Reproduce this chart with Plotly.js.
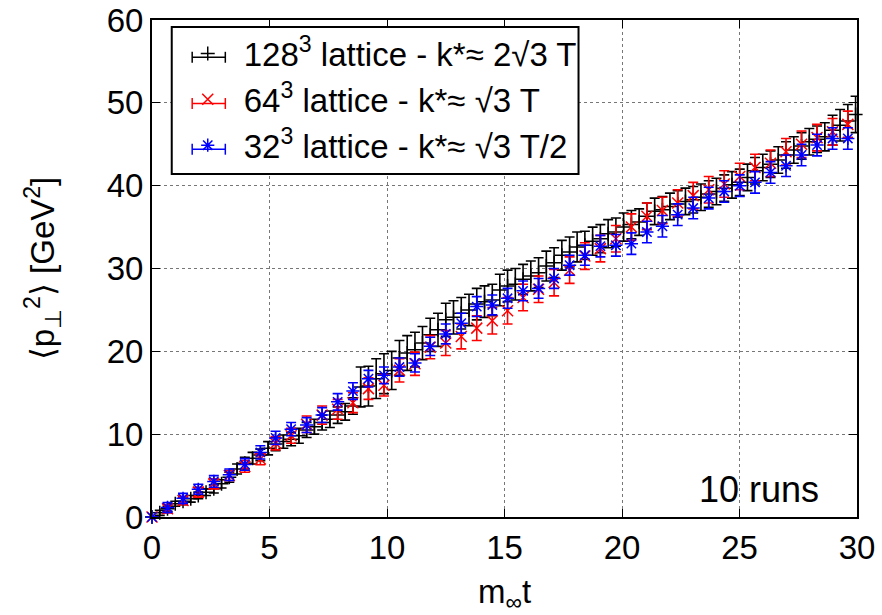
<!DOCTYPE html>
<html>
<head>
<meta charset="utf-8">
<script src="https://cdn.plot.ly/plotly-3.0.1.min.js"></script>
<style>html,body{margin:0;padding:0;background:#fff}#chart{width:882px;height:615px}</style>
</head>
<body>
<div id="chart"></div>
<script>
// 128^3 lattice (black)
var x128 = [0.00,0.33,0.66,0.99,1.32,1.65,1.97,2.30,2.63,2.96,3.29,3.62,3.95,4.28,4.61,4.94,5.26,5.59,5.92,6.25,
  6.58,6.91,7.24,7.57,7.90,8.22,8.55,8.88,9.21,9.54,9.87,10.20,10.53,10.86,11.19,11.51,11.84,12.17,12.50,12.83,
  13.16,13.49,13.82,14.15,14.48,14.80,15.13,15.46,15.79,16.12,16.45,16.78,17.11,17.44,17.77,18.09,18.42,18.75,19.08,19.41,
  19.74,20.07,20.40,20.73,21.06,21.39,21.72,22.04,22.37,22.70,23.03,23.36,23.69,24.02,24.35,24.68,25.01,25.34,25.66,25.99,
  26.32,26.65,26.98,27.31,27.64,27.97,28.30,28.63,28.96,29.28,29.61,29.94];
var y128 = [0.0,0.5,1.0,1.6,1.9,2.2,2.6,3.0,3.4,4.0,4.8,5.8,6.5,7.1,7.5,8.3,8.8,9.1,9.4,9.8,
  10.5,10.9,11.4,11.8,12.3,12.7,13.4,15.7,15.8,16.7,17.3,17.7,19.2,19.8,20.2,21.0,22.0,22.6,23.8,24.1,
  24.6,25.0,25.7,26.0,26.2,27.4,27.9,28.1,28.7,29.1,29.5,30.3,30.7,31.6,32.0,32.6,32.8,33.3,33.6,34.2,
  34.4,35.0,35.3,35.6,36.3,36.9,37.1,37.5,37.8,38.1,38.3,38.6,39.0,39.3,39.7,40.1,40.4,41.0,41.8,42.2,
  42.6,43.1,43.7,44.3,44.8,45.3,45.6,45.9,46.7,47.3,47.8,48.6];
var e128 = [0.0,0.3,0.3,0.3,0.4,0.4,0.4,0.4,0.5,0.5,0.6,0.6,0.7,0.7,0.7,0.8,0.8,0.8,0.8,0.9,
  0.9,0.9,0.9,1.0,1.0,1.0,1.0,2.4,2.4,2.4,2.4,2.3,2.1,2.1,2.1,2.0,2.0,2.0,2.0,2.0,
  1.9,1.9,1.9,1.9,1.9,1.9,1.9,1.9,1.8,1.8,1.8,1.8,1.8,1.8,1.8,1.8,1.7,1.7,1.7,1.7,
  1.7,1.7,1.7,1.6,1.6,1.6,1.6,1.6,1.6,1.6,1.6,1.6,1.6,1.6,1.6,1.6,1.6,1.6,1.6,1.6,
  1.6,1.6,1.6,1.6,1.6,1.6,1.6,1.7,1.8,1.9,2.0,2.2];

// 64^3 (red) and 32^3 (blue) lattices share the same time grid
var xCoarse = [0.00,0.66,1.32,1.97,2.63,3.29,3.95,4.61,5.26,5.92,6.58,7.24,7.90,8.55,9.21,9.87,10.53,11.19,11.84,12.50,
  13.16,13.82,14.48,15.13,15.79,16.45,17.11,17.77,18.42,19.08,19.74,20.40,21.06,21.72,22.37,23.03,23.69,24.35,25.01,25.66,
  26.32,26.98,27.64,28.30,28.96,29.61];
var y64 = [0.0,1.0,2.0,3.0,4.0,5.0,6.1,7.0,8.9,9.8,11.2,12.3,13.0,13.8,15.5,15.9,17.7,18.5,20.5,21.0,
  21.8,22.8,23.7,24.9,26.5,27.5,28.3,29.8,31.5,32.4,33.6,35.0,36.3,37.0,37.9,38.8,39.5,40.2,41.1,42.2,
  42.7,44.1,45.0,45.8,46.5,47.4];
var e64 = [0.0,0.5,0.5,0.6,0.6,0.6,0.7,0.7,0.8,0.9,1.0,1.1,1.2,1.2,1.3,1.3,1.4,1.4,1.4,1.5,
  1.5,1.5,1.6,1.6,1.6,1.6,1.6,1.6,1.6,1.6,1.6,1.6,1.6,1.6,1.6,1.6,1.6,1.6,1.6,1.6,
  1.6,1.6,1.6,1.6,1.6,1.6];
var y32 = [0.0,1.15,2.25,3.35,4.3,5.1,6.35,7.8,9.55,10.6,11.1,12.3,13.9,15.2,16.7,17.1,18.1,18.6,20.6,22.1,
  23.4,25.4,25.6,26.4,27.3,27.6,28.8,30.4,31.6,32.7,32.8,33.0,34.4,35.1,36.5,37.3,38.5,39.3,40.0,40.4,
  41.6,42.4,43.7,44.9,45.7,45.7];
var e32 = [0.0,0.6,0.6,0.6,0.7,0.7,0.7,0.8,0.8,0.8,0.9,0.9,1.0,1.0,1.0,1.0,1.1,1.1,1.1,1.2,
  1.2,1.2,1.2,1.2,1.2,1.2,1.2,1.2,1.2,1.3,1.3,1.3,1.3,1.3,1.3,1.3,1.3,1.3,1.3,1.3,
  1.3,1.3,1.3,1.3,1.3,1.3];

var names = ['128<sup>3</sup> lattice - k*\u2248 2\u221A3 T', '64<sup>3</sup> lattice - k*\u2248 \u221A3 T', '32<sup>3</sup> lattice - k*\u2248 \u221A3 T/2'];
var colors = ['#000000', '#ff0000', '#0000ff'];
var xTicks = [0,5,10,15,20,25,30];
var yTicks = [0,10,20,30,40,50,60];

function tr(x, y, e, name, color, symbol, size) {
  return {
    x: x, y: y, name: name, type: 'scatter', mode: 'markers', cliponaxis: false,
    marker: {symbol: symbol, size: size, color: color, line: {color: color, width: 1.5}},
    error_y: {type: 'data', array: e, visible: true, color: color, thickness: 1.6, width: 5}
  };
}

var data = [
  tr(x128, y128, e128, names[0], colors[0], 'cross-thin-open', 10),
  tr(xCoarse, y64, e64, names[1], colors[1], 'x-thin-open', 11),
  tr(xCoarse, y32, e32, names[2], colors[2], 'asterisk-open', 11)
];

// legend frame and error-bar style sample lines (paper coordinates)
var rowY = [0.925, 0.832, 0.740];
var shapes = [{type: 'rect', xref: 'paper', yref: 'paper', x0: 0.028, x1: 0.605, y0: 0.69, y1: 0.986,
  line: {color: '#000', width: 2}, fillcolor: '#fff', layer: 'above'}];
rowY.forEach(function(yy, k) {
  var c = colors[k];
  shapes.push({type: 'line', xref: 'paper', yref: 'paper', x0: 0.057, x1: 0.104, y0: yy, y1: yy,
    line: {color: c, width: 1.5}, layer: 'above'});
  [0.057, 0.104].forEach(function(xx) {
    shapes.push({type: 'line', xref: 'paper', yref: 'paper', x0: xx, x1: xx, y0: yy - 0.011, y1: yy + 0.011,
      line: {color: c, width: 1.5}, layer: 'above'});
  });
});

var font = {family: 'Liberation Sans, Arial, sans-serif', size: 33, color: '#000'};
var layout = {
  width: 882, height: 615,
  margin: {l: 152, r: 25, t: 20, b: 98},
  paper_bgcolor: '#fff', plot_bgcolor: '#fff',
  font: font,
  showlegend: true,
  legend: {x: 0.028, y: 0.989, xanchor: 'left', yanchor: 'top', borderwidth: 0,
    bgcolor: 'rgba(0,0,0,0)', font: font, itemwidth: 62},
  shapes: shapes,
  xaxis: {range: [0, 30], tickvals: xTicks, ticktext: xTicks.map(String), ticks: 'inside', ticklen: 8,
    tickwidth: 1, tickcolor: '#000', showline: true, linecolor: '#000', linewidth: 2, mirror: 'allticks',
    showgrid: true, gridcolor: '#777', griddash: 'dot', gridwidth: 1, zeroline: false,
    tickfont: font, automargin: false,
    title: {text: 'm<sub>\u221E</sub>t', font: font, standoff: 22}},
  yaxis: {range: [0, 60], tickvals: yTicks, ticktext: yTicks.map(String), ticks: 'inside', ticklen: 8,
    tickwidth: 1, tickcolor: '#000', showline: true, linecolor: '#000', linewidth: 2, mirror: 'allticks',
    showgrid: true, gridcolor: '#777', griddash: 'dot', gridwidth: 1, zeroline: false,
    tickfont: font, automargin: false,
    title: {text: '\u27E8p<sub>\u22A5</sub><sup>2</sup>\u27E9 [GeV<sup>2</sup>]', font: {family: font.family, size: 33, color: '#000'}, standoff: 42}},
  annotations: [{xref: 'paper', yref: 'paper', x: 0.949, y: 0.055, xanchor: 'right', yanchor: 'middle',
    text: '10 runs', showarrow: false, font: {family: font.family, size: 36, color: '#000'}}]
};

Plotly.newPlot('chart', data, layout, {displayModeBar: false, staticPlot: true});
</script>
</body>
</html>
